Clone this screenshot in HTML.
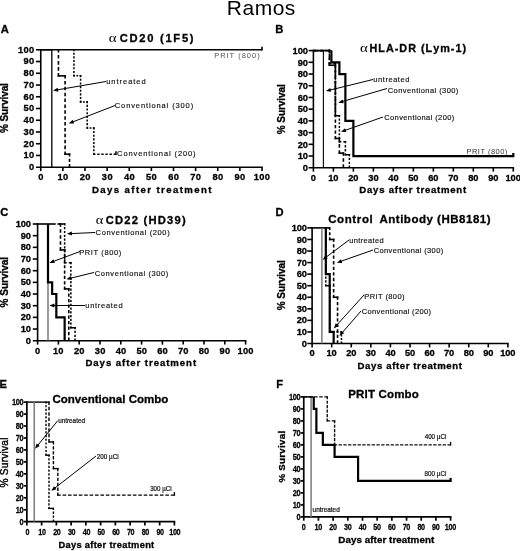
<!DOCTYPE html>
<html><head><meta charset="utf-8"><title>Ramos</title>
<style>html,body{margin:0;padding:0;background:#fff;width:520px;height:551px;overflow:hidden}svg{display:block;will-change:transform}.b{stroke:#000;stroke-width:0.3px}.a{stroke:#111;stroke-width:0.15px}.c{stroke:#000;stroke-width:0.25px}.e{stroke:#000;stroke-width:0.2px}.r{stroke:#000;stroke-width:0.4px}</style>
</head><body>
<svg width="520" height="551" viewBox="0 0 520 551">
<rect width="520" height="551" fill="#fff"/>
<text x="226.78 242.46 254.65 272.66 284.86" y="15.4" font-size="21" font-weight="normal" fill="#000" font-family='"Liberation Sans", sans-serif'>Ramos</text>
<text x="0.72" y="32.8" font-size="11.2" font-weight="bold" fill="#000" font-family='"Liberation Sans", sans-serif' class="b">A</text>
<line x1="35.95" y1="167.2" x2="262.8" y2="167.2" stroke="#000" stroke-width="1.6"/>
<line x1="40.75" y1="171.1" x2="40.75" y2="49" stroke="#000" stroke-width="1.6"/>
<line x1="35.95" y1="155.46" x2="40.75" y2="155.46" stroke="#000" stroke-width="1.6"/>
<line x1="62.88" y1="167.2" x2="62.88" y2="171.1" stroke="#000" stroke-width="1.6"/>
<line x1="35.95" y1="143.72" x2="40.75" y2="143.72" stroke="#000" stroke-width="1.6"/>
<line x1="85" y1="167.2" x2="85" y2="171.1" stroke="#000" stroke-width="1.6"/>
<line x1="35.95" y1="131.98" x2="40.75" y2="131.98" stroke="#000" stroke-width="1.6"/>
<line x1="107.12" y1="167.2" x2="107.12" y2="171.1" stroke="#000" stroke-width="1.6"/>
<line x1="35.95" y1="120.24" x2="40.75" y2="120.24" stroke="#000" stroke-width="1.6"/>
<line x1="129.25" y1="167.2" x2="129.25" y2="171.1" stroke="#000" stroke-width="1.6"/>
<line x1="35.95" y1="108.5" x2="40.75" y2="108.5" stroke="#000" stroke-width="1.6"/>
<line x1="151.38" y1="167.2" x2="151.38" y2="171.1" stroke="#000" stroke-width="1.6"/>
<line x1="35.95" y1="96.76" x2="40.75" y2="96.76" stroke="#000" stroke-width="1.6"/>
<line x1="173.5" y1="167.2" x2="173.5" y2="171.1" stroke="#000" stroke-width="1.6"/>
<line x1="35.95" y1="85.02" x2="40.75" y2="85.02" stroke="#000" stroke-width="1.6"/>
<line x1="195.62" y1="167.2" x2="195.62" y2="171.1" stroke="#000" stroke-width="1.6"/>
<line x1="35.95" y1="73.28" x2="40.75" y2="73.28" stroke="#000" stroke-width="1.6"/>
<line x1="217.75" y1="167.2" x2="217.75" y2="171.1" stroke="#000" stroke-width="1.6"/>
<line x1="35.95" y1="61.54" x2="40.75" y2="61.54" stroke="#000" stroke-width="1.6"/>
<line x1="239.88" y1="167.2" x2="239.88" y2="171.1" stroke="#000" stroke-width="1.6"/>
<line x1="35.95" y1="49.8" x2="40.75" y2="49.8" stroke="#000" stroke-width="1.6"/>
<line x1="262" y1="167.2" x2="262" y2="171.1" stroke="#000" stroke-width="1.6"/>
<text x="29.01" y="170" font-size="9.3" font-weight="bold" fill="#000" font-family='"Liberation Sans", sans-serif' class="b">0</text>
<text x="23.46 29.01" y="158.26" font-size="9.3" font-weight="bold" fill="#000" font-family='"Liberation Sans", sans-serif' class="b">10</text>
<text x="23.46 29.01" y="146.52" font-size="9.3" font-weight="bold" fill="#000" font-family='"Liberation Sans", sans-serif' class="b">20</text>
<text x="23.46 29.01" y="134.78" font-size="9.3" font-weight="bold" fill="#000" font-family='"Liberation Sans", sans-serif' class="b">30</text>
<text x="23.46 29.01" y="123.04" font-size="9.3" font-weight="bold" fill="#000" font-family='"Liberation Sans", sans-serif' class="b">40</text>
<text x="23.46 29.01" y="111.3" font-size="9.3" font-weight="bold" fill="#000" font-family='"Liberation Sans", sans-serif' class="b">50</text>
<text x="23.46 29.01" y="99.56" font-size="9.3" font-weight="bold" fill="#000" font-family='"Liberation Sans", sans-serif' class="b">60</text>
<text x="23.46 29.01" y="87.82" font-size="9.3" font-weight="bold" fill="#000" font-family='"Liberation Sans", sans-serif' class="b">70</text>
<text x="23.46 29.01" y="76.08" font-size="9.3" font-weight="bold" fill="#000" font-family='"Liberation Sans", sans-serif' class="b">80</text>
<text x="23.46 29.01" y="64.34" font-size="9.3" font-weight="bold" fill="#000" font-family='"Liberation Sans", sans-serif' class="b">90</text>
<text x="17.91 23.46 29.01" y="52.6" font-size="9.3" font-weight="bold" fill="#000" font-family='"Liberation Sans", sans-serif' class="b">100</text>
<text x="38.17" y="180.2" font-size="9.3" font-weight="bold" fill="#000" font-family='"Liberation Sans", sans-serif' class="b">0</text>
<text x="57.41 62.96" y="180.2" font-size="9.3" font-weight="bold" fill="#000" font-family='"Liberation Sans", sans-serif' class="b">10</text>
<text x="79.67 85.22" y="180.2" font-size="9.3" font-weight="bold" fill="#000" font-family='"Liberation Sans", sans-serif' class="b">20</text>
<text x="101.85 107.4" y="180.2" font-size="9.3" font-weight="bold" fill="#000" font-family='"Liberation Sans", sans-serif' class="b">30</text>
<text x="124.01 129.56" y="180.2" font-size="9.3" font-weight="bold" fill="#000" font-family='"Liberation Sans", sans-serif' class="b">40</text>
<text x="146.06 151.61" y="180.2" font-size="9.3" font-weight="bold" fill="#000" font-family='"Liberation Sans", sans-serif' class="b">50</text>
<text x="168.16 173.71" y="180.2" font-size="9.3" font-weight="bold" fill="#000" font-family='"Liberation Sans", sans-serif' class="b">60</text>
<text x="190.25 195.8" y="180.2" font-size="9.3" font-weight="bold" fill="#000" font-family='"Liberation Sans", sans-serif' class="b">70</text>
<text x="212.43 217.98" y="180.2" font-size="9.3" font-weight="bold" fill="#000" font-family='"Liberation Sans", sans-serif' class="b">80</text>
<text x="234.54 240.09" y="180.2" font-size="9.3" font-weight="bold" fill="#000" font-family='"Liberation Sans", sans-serif' class="b">90</text>
<text x="253.76 259.31 264.86" y="180.2" font-size="9.3" font-weight="bold" fill="#000" font-family='"Liberation Sans", sans-serif' class="b">100</text>
<text class="b" transform="translate(8.3,132.8) rotate(-90)" x="-0.25 8.57 11.28 17.88 23.92 27.74 33.24 35.95 41.44 46.93" y="0" font-size="10" font-weight="bold" font-family='"Liberation Sans", sans-serif'>% Survival</text>
<text x="91.96 100.29 107.03 113.76 120.5 124.57 131.31 135.9 140.5 147.23 152.37 156.43 161.03 166.16 172.9 179.64 184.24 194.17 200.91 208.17" y="192.9" font-size="9.6" font-weight="bold" fill="#000" font-family='"Liberation Sans", sans-serif' class="b">Days after treatment</text>
<text transform="translate(108.73,42) scale(1.1363,1)" x="0" y="0" font-size="13.2" font-weight="normal" fill="#000" font-family='"Liberation Serif", serif'>α</text>
<text x="119.64 129.44 139.24 147.18 155.12 159.95 165.39 173.33 181.89 189.83" y="42" font-size="11.2" font-weight="bold" fill="#000" font-family='"Liberation Sans", sans-serif' class="b">CD20 (1F5)</text>
<polyline points="40.75,49.8 51.81,49.8 51.81,167.2" fill="none" stroke="#000" stroke-width="1.3" stroke-linejoin="miter" stroke-linecap="butt"/>
<path d="M58.45 49L58.45 76.66" fill="none" stroke="#000" stroke-width="1.6" stroke-dasharray="3.59 2.43" stroke-linecap="butt"/>
<path d="M57.65 75.86L65.89 75.86" fill="none" stroke="#000" stroke-width="1.6" stroke-dasharray="8.24 5.57" stroke-linecap="butt"/>
<path d="M65.09 75.06L65.09 154.97" fill="none" stroke="#000" stroke-width="1.6" stroke-dasharray="3.51 2.37" stroke-linecap="butt"/>
<path d="M64.29 154.17L70.31 154.17" fill="none" stroke="#000" stroke-width="1.6" stroke-dasharray="6.02 4.08" stroke-linecap="butt"/>
<path d="M69.51 153.37L69.51 167.2" fill="none" stroke="#000" stroke-width="1.6" stroke-dasharray="3.18 2.15" stroke-linecap="butt"/>
<path d="M73.94 49.05L73.94 76.61" fill="none" stroke="#000" stroke-width="1.5" stroke-dasharray="2.11 1.53" stroke-linecap="butt"/>
<path d="M73.19 75.86L81.33 75.86" fill="none" stroke="#000" stroke-width="1.5" stroke-dasharray="1.83 1.33" stroke-linecap="butt"/>
<path d="M80.58 75.11L80.58 102.68" fill="none" stroke="#000" stroke-width="1.5" stroke-dasharray="2.11 1.53" stroke-linecap="butt"/>
<path d="M79.83 101.93L87.96 101.93" fill="none" stroke="#000" stroke-width="1.5" stroke-dasharray="1.83 1.33" stroke-linecap="butt"/>
<path d="M87.21 101.18L87.21 128.86" fill="none" stroke="#000" stroke-width="1.5" stroke-dasharray="2.11 1.54" stroke-linecap="butt"/>
<path d="M86.46 128.11L94.6 128.11" fill="none" stroke="#000" stroke-width="1.5" stroke-dasharray="1.83 1.33" stroke-linecap="butt"/>
<path d="M93.85 127.36L93.85 154.92" fill="none" stroke="#000" stroke-width="1.5" stroke-dasharray="2.11 1.53" stroke-linecap="butt"/>
<path d="M93.1 154.17L115.97 154.17" fill="none" stroke="#000" stroke-width="1.5" stroke-dasharray="2.37 1.73" stroke-linecap="butt"/>
<line x1="115.97" y1="154.92" x2="115.97" y2="151.17" stroke="#000" stroke-width="1.5"/>
<polyline points="40.75,49.8 262,49.8" fill="none" stroke="#000" stroke-width="1.6" stroke-linejoin="miter" stroke-linecap="butt"/>
<line x1="262" y1="50.6" x2="262" y2="46.8" stroke="#000" stroke-width="1.6"/>
<text x="214.18 220.17 226.56 229.62 235.18 238.24 241.72 246.87 252.02 257.17" y="58.1" font-size="7.5" font-weight="normal" fill="#555" font-family='"Liberation Sans", sans-serif'>PRIT (800)</text>
<text x="106.21 111.36 116.5 119.56 123.03 128.17 133.31 136.37 141.51" y="84" font-size="7.5" font-weight="normal" fill="#111" font-family='"Liberation Sans", sans-serif' class="a">untreated</text>
<line x1="106" y1="81.5" x2="57.04" y2="89.92" stroke="#000" stroke-width="1"/>
<polygon points="53.1,90.6 57.69,87.78 58.37,91.72" fill="#000"/>
<text x="114.82 121.12 126.17 131.22 135.85 140.9 145.95 148.92 151.47 156.52 161.57 166.62 169.17 172.13 175.51 180.56 185.62 190.67" y="107.9" font-size="7.5" font-weight="normal" fill="#111" font-family='"Liberation Sans", sans-serif' class="a">Conventional (300)</text>
<line x1="115" y1="105.5" x2="72.48" y2="122.05" stroke="#000" stroke-width="1"/>
<polygon points="68.75,123.5 72.68,119.82 74.13,123.55" fill="#000"/>
<text x="117.12 123.42 128.48 133.54 138.17 143.23 148.29 151.26 153.81 158.87 163.93 168.99 171.54 174.51 177.89 182.95 188.01 193.07" y="155.9" font-size="7.5" font-weight="normal" fill="#111" font-family='"Liberation Sans", sans-serif' class="a">Conventional (200)</text>
<text x="275.25" y="32.9" font-size="11.2" font-weight="bold" fill="#000" font-family='"Liberation Sans", sans-serif' class="b">B</text>
<line x1="308.6" y1="167.75" x2="514.1" y2="167.75" stroke="#000" stroke-width="1.6"/>
<line x1="313.4" y1="171.65" x2="313.4" y2="49.8" stroke="#000" stroke-width="1.6"/>
<line x1="308.6" y1="156.03" x2="313.4" y2="156.03" stroke="#000" stroke-width="1.6"/>
<line x1="333.39" y1="167.75" x2="333.39" y2="171.65" stroke="#000" stroke-width="1.6"/>
<line x1="308.6" y1="144.32" x2="313.4" y2="144.32" stroke="#000" stroke-width="1.6"/>
<line x1="353.38" y1="167.75" x2="353.38" y2="171.65" stroke="#000" stroke-width="1.6"/>
<line x1="308.6" y1="132.6" x2="313.4" y2="132.6" stroke="#000" stroke-width="1.6"/>
<line x1="373.37" y1="167.75" x2="373.37" y2="171.65" stroke="#000" stroke-width="1.6"/>
<line x1="308.6" y1="120.89" x2="313.4" y2="120.89" stroke="#000" stroke-width="1.6"/>
<line x1="393.36" y1="167.75" x2="393.36" y2="171.65" stroke="#000" stroke-width="1.6"/>
<line x1="308.6" y1="109.17" x2="313.4" y2="109.17" stroke="#000" stroke-width="1.6"/>
<line x1="413.35" y1="167.75" x2="413.35" y2="171.65" stroke="#000" stroke-width="1.6"/>
<line x1="308.6" y1="97.46" x2="313.4" y2="97.46" stroke="#000" stroke-width="1.6"/>
<line x1="433.34" y1="167.75" x2="433.34" y2="171.65" stroke="#000" stroke-width="1.6"/>
<line x1="308.6" y1="85.75" x2="313.4" y2="85.75" stroke="#000" stroke-width="1.6"/>
<line x1="453.33" y1="167.75" x2="453.33" y2="171.65" stroke="#000" stroke-width="1.6"/>
<line x1="308.6" y1="74.03" x2="313.4" y2="74.03" stroke="#000" stroke-width="1.6"/>
<line x1="473.32" y1="167.75" x2="473.32" y2="171.65" stroke="#000" stroke-width="1.6"/>
<line x1="308.6" y1="62.31" x2="313.4" y2="62.31" stroke="#000" stroke-width="1.6"/>
<line x1="493.31" y1="167.75" x2="493.31" y2="171.65" stroke="#000" stroke-width="1.6"/>
<line x1="308.6" y1="50.6" x2="313.4" y2="50.6" stroke="#000" stroke-width="1.6"/>
<line x1="513.3" y1="167.75" x2="513.3" y2="171.65" stroke="#000" stroke-width="1.6"/>
<text x="302.81" y="170.95" font-size="9.3" font-weight="bold" fill="#000" font-family='"Liberation Sans", sans-serif' class="b">0</text>
<text x="297.71 302.81" y="159.23" font-size="9.3" font-weight="bold" fill="#000" font-family='"Liberation Sans", sans-serif' class="b">10</text>
<text x="297.71 302.81" y="147.52" font-size="9.3" font-weight="bold" fill="#000" font-family='"Liberation Sans", sans-serif' class="b">20</text>
<text x="297.71 302.81" y="135.8" font-size="9.3" font-weight="bold" fill="#000" font-family='"Liberation Sans", sans-serif' class="b">30</text>
<text x="297.71 302.81" y="124.09" font-size="9.3" font-weight="bold" fill="#000" font-family='"Liberation Sans", sans-serif' class="b">40</text>
<text x="297.71 302.81" y="112.37" font-size="9.3" font-weight="bold" fill="#000" font-family='"Liberation Sans", sans-serif' class="b">50</text>
<text x="297.71 302.81" y="100.66" font-size="9.3" font-weight="bold" fill="#000" font-family='"Liberation Sans", sans-serif' class="b">60</text>
<text x="297.71 302.81" y="88.94" font-size="9.3" font-weight="bold" fill="#000" font-family='"Liberation Sans", sans-serif' class="b">70</text>
<text x="297.71 302.81" y="77.23" font-size="9.3" font-weight="bold" fill="#000" font-family='"Liberation Sans", sans-serif' class="b">80</text>
<text x="297.71 302.81" y="65.51" font-size="9.3" font-weight="bold" fill="#000" font-family='"Liberation Sans", sans-serif' class="b">90</text>
<text x="292.61 297.71 302.81" y="53.8" font-size="9.3" font-weight="bold" fill="#000" font-family='"Liberation Sans", sans-serif' class="b">100</text>
<text x="310.82" y="180.7" font-size="9.3" font-weight="bold" fill="#000" font-family='"Liberation Sans", sans-serif' class="b">0</text>
<text x="328.15 333.25" y="180.7" font-size="9.3" font-weight="bold" fill="#000" font-family='"Liberation Sans", sans-serif' class="b">10</text>
<text x="348.27 353.37" y="180.7" font-size="9.3" font-weight="bold" fill="#000" font-family='"Liberation Sans", sans-serif' class="b">20</text>
<text x="368.32 373.42" y="180.7" font-size="9.3" font-weight="bold" fill="#000" font-family='"Liberation Sans", sans-serif' class="b">30</text>
<text x="388.34 393.44" y="180.7" font-size="9.3" font-weight="bold" fill="#000" font-family='"Liberation Sans", sans-serif' class="b">40</text>
<text x="408.26 413.36" y="180.7" font-size="9.3" font-weight="bold" fill="#000" font-family='"Liberation Sans", sans-serif' class="b">50</text>
<text x="428.22 433.32" y="180.7" font-size="9.3" font-weight="bold" fill="#000" font-family='"Liberation Sans", sans-serif' class="b">60</text>
<text x="448.18 453.28" y="180.7" font-size="9.3" font-weight="bold" fill="#000" font-family='"Liberation Sans", sans-serif' class="b">70</text>
<text x="468.23 473.33" y="180.7" font-size="9.3" font-weight="bold" fill="#000" font-family='"Liberation Sans", sans-serif' class="b">80</text>
<text x="488.2 493.3" y="180.7" font-size="9.3" font-weight="bold" fill="#000" font-family='"Liberation Sans", sans-serif' class="b">90</text>
<text x="505.51 510.61 515.71" y="180.7" font-size="9.3" font-weight="bold" fill="#000" font-family='"Liberation Sans", sans-serif' class="b">100</text>
<text class="b" transform="translate(285.3,133.9) rotate(-90)" x="-0.25 8.57 11.28 17.88 23.92 27.74 33.24 35.95 41.44 46.93" y="0" font-size="10" font-weight="bold" font-family='"Liberation Sans", sans-serif'>% Survival</text>
<text x="359.36 367.02 373.1 379.17 385.24 388.64 394.71 398.64 402.57 408.64 413.11 416.51 420.44 424.91 430.98 437.05 440.98 450.25 456.32 462.92" y="193.1" font-size="9.6" font-weight="bold" fill="#000" font-family='"Liberation Sans", sans-serif' class="b">Days after treatment</text>
<text transform="translate(360.03,51.7) scale(1.1281,1)" x="0" y="0" font-size="13.2" font-weight="normal" fill="#000" font-family='"Liberation Serif", serif'>α</text>
<text x="369.48 378.29 385.9 394.71 399.32 408.13 416.95 420.96 425.57 433.18 440.2 450.81 455.42 462.44" y="51.7" font-size="10.8" font-weight="bold" fill="#000" font-family='"Liberation Sans", sans-serif' class="b">HLA-DR (Lym-1)</text>
<polyline points="313.4,50.6 323.39,50.6 323.39,167.75" fill="none" stroke="#000" stroke-width="1.1" stroke-linejoin="miter" stroke-linecap="butt"/>
<path d="M313.4 50.6L330.19 50.6" fill="none" stroke="#000" stroke-width="1.6" stroke-dasharray="3.86 2.61" stroke-linecap="butt"/>
<path d="M329.39 49.8L329.39 66.04" fill="none" stroke="#000" stroke-width="1.6" stroke-dasharray="3.73 2.52" stroke-linecap="butt"/>
<path d="M328.59 65.24L336.19 65.24" fill="none" stroke="#000" stroke-width="1.6" stroke-dasharray="7.6 5.14" stroke-linecap="butt"/>
<path d="M335.39 64.44L335.39 139.26" fill="none" stroke="#000" stroke-width="1.6" stroke-dasharray="3.28 2.22" stroke-linecap="butt"/>
<path d="M334.59 138.46L340.19 138.46" fill="none" stroke="#000" stroke-width="1.6" stroke-dasharray="5.6 3.79" stroke-linecap="butt"/>
<path d="M339.39 137.66L339.39 153.91" fill="none" stroke="#000" stroke-width="1.6" stroke-dasharray="3.73 2.52" stroke-linecap="butt"/>
<path d="M338.59 153.11L344.19 153.11" fill="none" stroke="#000" stroke-width="1.6" stroke-dasharray="5.6 3.79" stroke-linecap="butt"/>
<path d="M343.38 152.31L343.38 167.75" fill="none" stroke="#000" stroke-width="1.6" stroke-dasharray="3.55 2.4" stroke-linecap="butt"/>
<path d="M313.4 50.6L330.14 50.6" fill="none" stroke="#000" stroke-width="1.5" stroke-dasharray="2.12 1.54" stroke-linecap="butt"/>
<path d="M329.39 49.85L329.39 64.35" fill="none" stroke="#000" stroke-width="1.5" stroke-dasharray="2.35 1.71" stroke-linecap="butt"/>
<path d="M328.64 63.6L336.14 63.6" fill="none" stroke="#000" stroke-width="1.5" stroke-dasharray="2.75 2" stroke-linecap="butt"/>
<path d="M335.39 62.85L335.39 116.49" fill="none" stroke="#000" stroke-width="1.5" stroke-dasharray="2.13 1.55" stroke-linecap="butt"/>
<path d="M334.64 115.74L340.14 115.74" fill="none" stroke="#000" stroke-width="1.5" stroke-dasharray="5.5 4" stroke-linecap="butt"/>
<path d="M339.39 114.99L339.39 142.49" fill="none" stroke="#000" stroke-width="1.5" stroke-dasharray="2.1 1.53" stroke-linecap="butt"/>
<path d="M338.64 141.74L346.13 141.74" fill="none" stroke="#000" stroke-width="1.5" stroke-dasharray="2.75 2" stroke-linecap="butt"/>
<path d="M345.38 140.99L345.38 155.5" fill="none" stroke="#000" stroke-width="1.5" stroke-dasharray="2.35 1.71" stroke-linecap="butt"/>
<path d="M344.63 154.75L350.13 154.75" fill="none" stroke="#000" stroke-width="1.5" stroke-dasharray="5.5 4" stroke-linecap="butt"/>
<path d="M349.38 154L349.38 167.75" fill="none" stroke="#000" stroke-width="1.5" stroke-dasharray="2.22 1.62" stroke-linecap="butt"/>
<line x1="313.4" y1="50.6" x2="331.39" y2="50.6" stroke="#000" stroke-width="1.6"/>
<line x1="335.39" y1="65.24" x2="335.39" y2="115.74" stroke="#000" stroke-width="1.5" stroke-dasharray="14 1.2"/>
<polyline points="331.39,50.6 331.39,50.6 331.39,62.31 339.39,62.31 339.39,74.03 345.38,74.03 345.38,120.89 353.38,120.89 353.38,156.03 513.3,156.03" fill="none" stroke="#000" stroke-width="2.2" stroke-linejoin="miter" stroke-linecap="butt"/>
<line x1="513.3" y1="157.13" x2="513.3" y2="153.03" stroke="#000" stroke-width="2.2"/>
<text x="466.48 471.95 477.84 480.39 485.44 487.99 490.95 495.59 500.23 504.87" y="154.2" font-size="7.5" font-weight="normal" fill="#333" font-family='"Liberation Sans", sans-serif'>PRIT (800)</text>
<text x="373.31 378.03 382.75 385.38 388.43 393.14 397.86 400.49 405.21" y="81.7" font-size="7.5" font-weight="normal" fill="#111" font-family='"Liberation Sans", sans-serif' class="a">untreated</text>
<line x1="373" y1="79.5" x2="329.78" y2="90.14" stroke="#000" stroke-width="1"/>
<polygon points="325.9,91.1 330.28,87.96 331.23,91.85" fill="#000"/>
<text x="387.72 393.56 398.16 402.76 406.94 411.54 416.14 418.65 420.74 425.34 429.94 434.54 436.63 439.15 442.07 446.67 451.27 455.87" y="92.7" font-size="7.5" font-weight="normal" fill="#111" font-family='"Liberation Sans", sans-serif' class="a">Conventional (300)</text>
<line x1="387" y1="88.5" x2="342.14" y2="101.58" stroke="#000" stroke-width="1"/>
<polygon points="338.3,102.7 342.54,99.38 343.66,103.22" fill="#000"/>
<text x="384.22 390.03 394.59 399.16 403.3 407.86 412.43 414.9 416.96 421.52 426.09 430.65 432.71 435.19 438.08 442.64 447.2 451.77" y="120.2" font-size="7.5" font-weight="normal" fill="#111" font-family='"Liberation Sans", sans-serif' class="a">Conventional (200)</text>
<line x1="383" y1="117" x2="344.77" y2="130.47" stroke="#000" stroke-width="1"/>
<polygon points="341,131.8 345.05,128.25 346.38,132.02" fill="#000"/>
<text x="0.14" y="215.6" font-size="11.2" font-weight="bold" fill="#000" font-family='"Liberation Sans", sans-serif' class="b">C</text>
<line x1="32.8" y1="340.7" x2="246.4" y2="340.7" stroke="#000" stroke-width="1.6"/>
<line x1="37.6" y1="344.6" x2="37.6" y2="223.2" stroke="#000" stroke-width="1.6"/>
<line x1="32.8" y1="329.03" x2="37.6" y2="329.03" stroke="#000" stroke-width="1.6"/>
<line x1="58.4" y1="340.7" x2="58.4" y2="344.6" stroke="#000" stroke-width="1.6"/>
<line x1="32.8" y1="317.36" x2="37.6" y2="317.36" stroke="#000" stroke-width="1.6"/>
<line x1="79.2" y1="340.7" x2="79.2" y2="344.6" stroke="#000" stroke-width="1.6"/>
<line x1="32.8" y1="305.69" x2="37.6" y2="305.69" stroke="#000" stroke-width="1.6"/>
<line x1="100" y1="340.7" x2="100" y2="344.6" stroke="#000" stroke-width="1.6"/>
<line x1="32.8" y1="294.02" x2="37.6" y2="294.02" stroke="#000" stroke-width="1.6"/>
<line x1="120.8" y1="340.7" x2="120.8" y2="344.6" stroke="#000" stroke-width="1.6"/>
<line x1="32.8" y1="282.35" x2="37.6" y2="282.35" stroke="#000" stroke-width="1.6"/>
<line x1="141.6" y1="340.7" x2="141.6" y2="344.6" stroke="#000" stroke-width="1.6"/>
<line x1="32.8" y1="270.68" x2="37.6" y2="270.68" stroke="#000" stroke-width="1.6"/>
<line x1="162.4" y1="340.7" x2="162.4" y2="344.6" stroke="#000" stroke-width="1.6"/>
<line x1="32.8" y1="259.01" x2="37.6" y2="259.01" stroke="#000" stroke-width="1.6"/>
<line x1="183.2" y1="340.7" x2="183.2" y2="344.6" stroke="#000" stroke-width="1.6"/>
<line x1="32.8" y1="247.34" x2="37.6" y2="247.34" stroke="#000" stroke-width="1.6"/>
<line x1="204" y1="340.7" x2="204" y2="344.6" stroke="#000" stroke-width="1.6"/>
<line x1="32.8" y1="235.67" x2="37.6" y2="235.67" stroke="#000" stroke-width="1.6"/>
<line x1="224.8" y1="340.7" x2="224.8" y2="344.6" stroke="#000" stroke-width="1.6"/>
<line x1="32.8" y1="224" x2="37.6" y2="224" stroke="#000" stroke-width="1.6"/>
<line x1="245.6" y1="340.7" x2="245.6" y2="344.6" stroke="#000" stroke-width="1.6"/>
<text x="25.81" y="343.8" font-size="9.3" font-weight="bold" fill="#000" font-family='"Liberation Sans", sans-serif' class="b">0</text>
<text x="20.81 25.81" y="332.13" font-size="9.3" font-weight="bold" fill="#000" font-family='"Liberation Sans", sans-serif' class="b">10</text>
<text x="20.81 25.81" y="320.46" font-size="9.3" font-weight="bold" fill="#000" font-family='"Liberation Sans", sans-serif' class="b">20</text>
<text x="20.81 25.81" y="308.79" font-size="9.3" font-weight="bold" fill="#000" font-family='"Liberation Sans", sans-serif' class="b">30</text>
<text x="20.81 25.81" y="297.12" font-size="9.3" font-weight="bold" fill="#000" font-family='"Liberation Sans", sans-serif' class="b">40</text>
<text x="20.81 25.81" y="285.45" font-size="9.3" font-weight="bold" fill="#000" font-family='"Liberation Sans", sans-serif' class="b">50</text>
<text x="20.81 25.81" y="273.78" font-size="9.3" font-weight="bold" fill="#000" font-family='"Liberation Sans", sans-serif' class="b">60</text>
<text x="20.81 25.81" y="262.11" font-size="9.3" font-weight="bold" fill="#000" font-family='"Liberation Sans", sans-serif' class="b">70</text>
<text x="20.81 25.81" y="250.44" font-size="9.3" font-weight="bold" fill="#000" font-family='"Liberation Sans", sans-serif' class="b">80</text>
<text x="20.81 25.81" y="238.77" font-size="9.3" font-weight="bold" fill="#000" font-family='"Liberation Sans", sans-serif' class="b">90</text>
<text x="15.81 20.81 25.81" y="227.1" font-size="9.3" font-weight="bold" fill="#000" font-family='"Liberation Sans", sans-serif' class="b">100</text>
<text x="35.02" y="353.8" font-size="9.3" font-weight="bold" fill="#000" font-family='"Liberation Sans", sans-serif' class="b">0</text>
<text x="53.06 58.36" y="353.8" font-size="9.3" font-weight="bold" fill="#000" font-family='"Liberation Sans", sans-serif' class="b">10</text>
<text x="73.99 79.29" y="353.8" font-size="9.3" font-weight="bold" fill="#000" font-family='"Liberation Sans", sans-serif' class="b">20</text>
<text x="94.85 100.15" y="353.8" font-size="9.3" font-weight="bold" fill="#000" font-family='"Liberation Sans", sans-serif' class="b">30</text>
<text x="115.68 120.98" y="353.8" font-size="9.3" font-weight="bold" fill="#000" font-family='"Liberation Sans", sans-serif' class="b">40</text>
<text x="136.41 141.71" y="353.8" font-size="9.3" font-weight="bold" fill="#000" font-family='"Liberation Sans", sans-serif' class="b">50</text>
<text x="157.18 162.48" y="353.8" font-size="9.3" font-weight="bold" fill="#000" font-family='"Liberation Sans", sans-serif' class="b">60</text>
<text x="177.95 183.25" y="353.8" font-size="9.3" font-weight="bold" fill="#000" font-family='"Liberation Sans", sans-serif' class="b">70</text>
<text x="198.81 204.11" y="353.8" font-size="9.3" font-weight="bold" fill="#000" font-family='"Liberation Sans", sans-serif' class="b">80</text>
<text x="219.59 224.89" y="353.8" font-size="9.3" font-weight="bold" fill="#000" font-family='"Liberation Sans", sans-serif' class="b">90</text>
<text x="237.61 242.91 248.21" y="353.8" font-size="9.3" font-weight="bold" fill="#000" font-family='"Liberation Sans", sans-serif' class="b">100</text>
<text class="b" transform="translate(8.3,307.2) rotate(-90)" x="-0.25 8.64 11.42 18.08 24.19 28.08 33.64 36.41 41.97 47.53" y="0" font-size="10" font-weight="bold" font-family='"Liberation Sans", sans-serif'>% Survival</text>
<text x="85.46 93.33 99.61 105.88 112.16 115.77 122.04 126.18 130.31 136.59 141.26 144.87 149 153.68 159.95 166.23 170.37 179.84 186.12 192.92" y="365.8" font-size="9.6" font-weight="bold" fill="#000" font-family='"Liberation Sans", sans-serif' class="b">Days after treatment</text>
<text transform="translate(95.75,224.2) scale(1.0954,1)" x="0" y="0" font-size="13.2" font-weight="normal" fill="#000" font-family='"Liberation Serif", serif'>α</text>
<text x="105.64 114.96 124.27 131.73 139.19 143.53 148.48 157.8 167.11 174.57 182.03" y="224.2" font-size="11.2" font-weight="bold" fill="#000" font-family='"Liberation Sans", sans-serif' class="b">CD22 (HD39)</text>
<line x1="36.8" y1="224" x2="55.7" y2="224" stroke="#000" stroke-width="1.6"/>
<polyline points="48,224 48,224 48,340.7" fill="none" stroke="#7a7a7a" stroke-width="1.5" stroke-linejoin="miter" stroke-linecap="butt"/>
<path d="M57.36 224L61.28 224" fill="none" stroke="#000" stroke-width="1.6" stroke-dasharray="3.92 2.65" stroke-linecap="butt"/>
<path d="M60.48 223.2L60.48 250.71" fill="none" stroke="#000" stroke-width="1.6" stroke-dasharray="3.57 2.41" stroke-linecap="butt"/>
<path d="M59.68 249.91L65.44 249.91" fill="none" stroke="#000" stroke-width="1.6" stroke-dasharray="5.76 3.9" stroke-linecap="butt"/>
<path d="M64.64 249.11L64.64 289.69" fill="none" stroke="#000" stroke-width="1.6" stroke-dasharray="3.19 2.16" stroke-linecap="butt"/>
<path d="M63.84 288.89L69.6 288.89" fill="none" stroke="#000" stroke-width="1.6" stroke-dasharray="5.76 3.9" stroke-linecap="butt"/>
<path d="M68.8 288.09L68.8 340.7" fill="none" stroke="#000" stroke-width="1.6" stroke-dasharray="3.27 2.21" stroke-linecap="butt"/>
<path d="M59.44 224L65.39 224" fill="none" stroke="#000" stroke-width="1.5" stroke-dasharray="5.95 4.33" stroke-linecap="butt"/>
<path d="M64.64 223.25L64.64 263.61" fill="none" stroke="#000" stroke-width="1.5" stroke-dasharray="2.21 1.61" stroke-linecap="butt"/>
<path d="M63.89 262.86L71.63 262.86" fill="none" stroke="#000" stroke-width="1.5" stroke-dasharray="2.84 2.06" stroke-linecap="butt"/>
<path d="M70.88 262.11L70.88 328.5" fill="none" stroke="#000" stroke-width="1.5" stroke-dasharray="2.19 1.59" stroke-linecap="butt"/>
<path d="M70.13 327.75L75.79 327.75" fill="none" stroke="#000" stroke-width="1.5" stroke-dasharray="5.66 4.12" stroke-linecap="butt"/>
<path d="M75.04 327L75.04 340.7" fill="none" stroke="#000" stroke-width="1.5" stroke-dasharray="2.22 1.61" stroke-linecap="butt"/>
<polyline points="48,224 48,224 48,282.35 52.16,282.35 52.16,294.02 56.32,294.02 56.32,317.36 64.64,317.36 64.64,340.7" fill="none" stroke="#000" stroke-width="2.2" stroke-linejoin="miter" stroke-linecap="butt"/>
<text x="95.62 101.66 106.46 111.26 115.64 120.44 125.24 127.95 130.24 135.04 139.84 144.64 146.93 149.65 152.77 157.57 162.37 167.17" y="235.4" font-size="7.5" font-weight="normal" fill="#111" font-family='"Liberation Sans", sans-serif' class="a">Conventional (200)</text>
<line x1="95" y1="232.5" x2="70.9" y2="233.62" stroke="#000" stroke-width="1"/>
<polygon points="66.9,233.8 71.8,231.57 71.99,235.57" fill="#000"/>
<text x="79.18 84.79 90.8 93.49 98.67 101.35 104.45 109.22 114 118.77" y="254.8" font-size="7.5" font-weight="normal" fill="#111" font-family='"Liberation Sans", sans-serif' class="a">PRIT (800)</text>
<line x1="80" y1="251.5" x2="53.15" y2="261.5" stroke="#000" stroke-width="1"/>
<polygon points="49.4,262.9 53.39,259.28 54.78,263.03" fill="#000"/>
<text x="94.82 100.83 105.6 110.37 114.72 119.49 124.26 126.94 129.21 133.98 138.75 143.52 145.78 148.46 151.56 156.33 161.1 165.87" y="276" font-size="7.5" font-weight="normal" fill="#111" font-family='"Liberation Sans", sans-serif' class="a">Conventional (300)</text>
<line x1="94" y1="272.5" x2="70.29" y2="278.26" stroke="#000" stroke-width="1"/>
<polygon points="66.4,279.2 70.79,276.08 71.73,279.96" fill="#000"/>
<text x="85.31 90.18 95.05 97.83 101.03 105.89 110.76 113.54 118.41" y="308" font-size="7.5" font-weight="normal" fill="#111" font-family='"Liberation Sans", sans-serif' class="a">untreated</text>
<line x1="85" y1="305.5" x2="53.4" y2="305.5" stroke="#000" stroke-width="1"/>
<polygon points="49.4,305.5 54.4,303.5 54.4,307.5" fill="#000"/>
<text x="275.5" y="215.6" font-size="11.2" font-weight="bold" fill="#000" font-family='"Liberation Sans", sans-serif' class="b">D</text>
<line x1="307.3" y1="343.5" x2="508.7" y2="343.5" stroke="#000" stroke-width="1.6"/>
<line x1="312.1" y1="347.4" x2="312.1" y2="227.1" stroke="#000" stroke-width="1.6"/>
<line x1="307.3" y1="331.94" x2="312.1" y2="331.94" stroke="#000" stroke-width="1.6"/>
<line x1="331.68" y1="343.5" x2="331.68" y2="347.4" stroke="#000" stroke-width="1.6"/>
<line x1="307.3" y1="320.38" x2="312.1" y2="320.38" stroke="#000" stroke-width="1.6"/>
<line x1="351.26" y1="343.5" x2="351.26" y2="347.4" stroke="#000" stroke-width="1.6"/>
<line x1="307.3" y1="308.82" x2="312.1" y2="308.82" stroke="#000" stroke-width="1.6"/>
<line x1="370.84" y1="343.5" x2="370.84" y2="347.4" stroke="#000" stroke-width="1.6"/>
<line x1="307.3" y1="297.26" x2="312.1" y2="297.26" stroke="#000" stroke-width="1.6"/>
<line x1="390.42" y1="343.5" x2="390.42" y2="347.4" stroke="#000" stroke-width="1.6"/>
<line x1="307.3" y1="285.7" x2="312.1" y2="285.7" stroke="#000" stroke-width="1.6"/>
<line x1="410" y1="343.5" x2="410" y2="347.4" stroke="#000" stroke-width="1.6"/>
<line x1="307.3" y1="274.14" x2="312.1" y2="274.14" stroke="#000" stroke-width="1.6"/>
<line x1="429.58" y1="343.5" x2="429.58" y2="347.4" stroke="#000" stroke-width="1.6"/>
<line x1="307.3" y1="262.58" x2="312.1" y2="262.58" stroke="#000" stroke-width="1.6"/>
<line x1="449.16" y1="343.5" x2="449.16" y2="347.4" stroke="#000" stroke-width="1.6"/>
<line x1="307.3" y1="251.02" x2="312.1" y2="251.02" stroke="#000" stroke-width="1.6"/>
<line x1="468.74" y1="343.5" x2="468.74" y2="347.4" stroke="#000" stroke-width="1.6"/>
<line x1="307.3" y1="239.46" x2="312.1" y2="239.46" stroke="#000" stroke-width="1.6"/>
<line x1="488.32" y1="343.5" x2="488.32" y2="347.4" stroke="#000" stroke-width="1.6"/>
<line x1="307.3" y1="227.9" x2="312.1" y2="227.9" stroke="#000" stroke-width="1.6"/>
<line x1="507.9" y1="343.5" x2="507.9" y2="347.4" stroke="#000" stroke-width="1.6"/>
<text x="301.71" y="346.6" font-size="9.3" font-weight="bold" fill="#000" font-family='"Liberation Sans", sans-serif' class="b">0</text>
<text x="296.71 301.71" y="335.04" font-size="9.3" font-weight="bold" fill="#000" font-family='"Liberation Sans", sans-serif' class="b">10</text>
<text x="296.71 301.71" y="323.48" font-size="9.3" font-weight="bold" fill="#000" font-family='"Liberation Sans", sans-serif' class="b">20</text>
<text x="296.71 301.71" y="311.92" font-size="9.3" font-weight="bold" fill="#000" font-family='"Liberation Sans", sans-serif' class="b">30</text>
<text x="296.71 301.71" y="300.36" font-size="9.3" font-weight="bold" fill="#000" font-family='"Liberation Sans", sans-serif' class="b">40</text>
<text x="296.71 301.71" y="288.8" font-size="9.3" font-weight="bold" fill="#000" font-family='"Liberation Sans", sans-serif' class="b">50</text>
<text x="296.71 301.71" y="277.24" font-size="9.3" font-weight="bold" fill="#000" font-family='"Liberation Sans", sans-serif' class="b">60</text>
<text x="296.71 301.71" y="265.68" font-size="9.3" font-weight="bold" fill="#000" font-family='"Liberation Sans", sans-serif' class="b">70</text>
<text x="296.71 301.71" y="254.12" font-size="9.3" font-weight="bold" fill="#000" font-family='"Liberation Sans", sans-serif' class="b">80</text>
<text x="296.71 301.71" y="242.56" font-size="9.3" font-weight="bold" fill="#000" font-family='"Liberation Sans", sans-serif' class="b">90</text>
<text x="291.71 296.71 301.71" y="231" font-size="9.3" font-weight="bold" fill="#000" font-family='"Liberation Sans", sans-serif' class="b">100</text>
<text x="309.52" y="356.3" font-size="9.3" font-weight="bold" fill="#000" font-family='"Liberation Sans", sans-serif' class="b">0</text>
<text x="326.49 331.49" y="356.3" font-size="9.3" font-weight="bold" fill="#000" font-family='"Liberation Sans", sans-serif' class="b">10</text>
<text x="346.2 351.2" y="356.3" font-size="9.3" font-weight="bold" fill="#000" font-family='"Liberation Sans", sans-serif' class="b">20</text>
<text x="365.84 370.84" y="356.3" font-size="9.3" font-weight="bold" fill="#000" font-family='"Liberation Sans", sans-serif' class="b">30</text>
<text x="385.45 390.45" y="356.3" font-size="9.3" font-weight="bold" fill="#000" font-family='"Liberation Sans", sans-serif' class="b">40</text>
<text x="404.96 409.96" y="356.3" font-size="9.3" font-weight="bold" fill="#000" font-family='"Liberation Sans", sans-serif' class="b">50</text>
<text x="424.51 429.51" y="356.3" font-size="9.3" font-weight="bold" fill="#000" font-family='"Liberation Sans", sans-serif' class="b">60</text>
<text x="444.06 449.06" y="356.3" font-size="9.3" font-weight="bold" fill="#000" font-family='"Liberation Sans", sans-serif' class="b">70</text>
<text x="463.7 468.7" y="356.3" font-size="9.3" font-weight="bold" fill="#000" font-family='"Liberation Sans", sans-serif' class="b">80</text>
<text x="483.26 488.26" y="356.3" font-size="9.3" font-weight="bold" fill="#000" font-family='"Liberation Sans", sans-serif' class="b">90</text>
<text x="500.21 505.21 510.21" y="356.3" font-size="9.3" font-weight="bold" fill="#000" font-family='"Liberation Sans", sans-serif' class="b">100</text>
<text class="b" transform="translate(284.8,310) rotate(-90)" x="-0.25 8.58 11.3 17.92 23.97 27.8 33.3 36.02 41.53 47.03" y="0" font-size="10" font-weight="bold" font-family='"Liberation Sans", sans-serif'>% Survival</text>
<text x="357.56 365.1 371.04 376.99 382.93 386.21 392.15 395.96 399.76 405.71 410.05 413.32 417.12 421.47 427.41 433.36 437.16 446.3 452.25 458.72" y="368.6" font-size="9.6" font-weight="bold" fill="#000" font-family='"Liberation Sans", sans-serif' class="b">Days after treatment</text>
<text x="328.18 337.09 344.73 352.36 356.8 361.88 369.52" y="222.8" font-size="11.5" font-weight="bold" fill="#000" font-family='"Liberation Sans", sans-serif' class="b">Control</text>
<text x="379.41 388.24 395.78 400.13 403.84 411.38 418.93 426.47 433.38 437.09 441.44 450.27 459.09 466 472.92 479.83 486.74" y="222.8" font-size="11.5" font-weight="bold" fill="#000" font-family='"Liberation Sans", sans-serif' class="b">Antibody (HB8181)</text>
<line x1="311.3" y1="227.9" x2="329.33" y2="227.9" stroke="#000" stroke-width="1.6"/>
<polyline points="321.89,227.9 321.89,227.9 321.89,343.5" fill="none" stroke="#7a7a7a" stroke-width="1.5" stroke-linejoin="miter" stroke-linecap="butt"/>
<path d="M325.81 227.15L325.81 286.45" fill="none" stroke="#000" stroke-width="1.5" stroke-dasharray="2.2 1.6" stroke-linecap="butt"/>
<path d="M325.06 285.7L330.47 285.7" fill="none" stroke="#000" stroke-width="1.5" stroke-dasharray="5.42 3.94" stroke-linecap="butt"/>
<path d="M329.72 284.95L329.72 332.69" fill="none" stroke="#000" stroke-width="1.5" stroke-dasharray="2.2 1.6" stroke-linecap="butt"/>
<path d="M328.97 331.94L342.22 331.94" fill="none" stroke="#000" stroke-width="1.5" stroke-dasharray="2.14 1.56" stroke-linecap="butt"/>
<path d="M341.47 331.19L341.47 343.5" fill="none" stroke="#000" stroke-width="1.5" stroke-dasharray="1.99 1.45" stroke-linecap="butt"/>
<path d="M329.72 227.1L329.72 240.26" fill="none" stroke="#000" stroke-width="1.6" stroke-dasharray="3.02 2.05" stroke-linecap="butt"/>
<path d="M328.92 239.46L334.44 239.46" fill="none" stroke="#000" stroke-width="1.6" stroke-dasharray="5.52 3.73" stroke-linecap="butt"/>
<path d="M333.64 238.66L333.64 298.06" fill="none" stroke="#000" stroke-width="1.6" stroke-dasharray="3.34 2.26" stroke-linecap="butt"/>
<path d="M332.84 297.26L338.35 297.26" fill="none" stroke="#000" stroke-width="1.6" stroke-dasharray="5.52 3.73" stroke-linecap="butt"/>
<path d="M337.55 296.46L337.55 343.5" fill="none" stroke="#000" stroke-width="1.6" stroke-dasharray="3.26 2.21" stroke-linecap="butt"/>
<polyline points="325.81,227.9 325.81,227.9 325.81,274.14 329.72,274.14 329.72,331.94 333.64,331.94 333.64,343.5" fill="none" stroke="#000" stroke-width="2.2" stroke-linejoin="miter" stroke-linecap="butt"/>
<text x="349.31 353.82 358.32 360.74 363.58 368.08 372.59 375.01 379.51" y="242.5" font-size="7.5" font-weight="normal" fill="#111" font-family='"Liberation Sans", sans-serif' class="a">untreated</text>
<line x1="349" y1="240" x2="325.8" y2="257.4" stroke="#000" stroke-width="1"/>
<polygon points="322.6,259.8 325.4,255.2 327.8,258.4" fill="#000"/>
<text x="373.72 379.49 384.02 388.55 392.66 397.19 401.71 404.15 406.18 410.71 415.23 419.76 421.79 424.23 427.08 431.61 436.14 440.67" y="253.3" font-size="7.5" font-weight="normal" fill="#111" font-family='"Liberation Sans", sans-serif' class="a">Conventional (300)</text>
<line x1="373" y1="250" x2="340.67" y2="261.37" stroke="#000" stroke-width="1"/>
<polygon points="336.9,262.7 340.95,259.15 342.28,262.93" fill="#000"/>
<text x="364.28 369.68 375.48 377.96 382.93 385.4 388.29 392.85 397.41 401.97" y="298.8" font-size="7.5" font-weight="normal" fill="#111" font-family='"Liberation Sans", sans-serif' class="a">PRIT (800)</text>
<line x1="364" y1="295" x2="336.48" y2="325.43" stroke="#000" stroke-width="1"/>
<polygon points="333.8,328.4 335.67,323.35 338.64,326.03" fill="#000"/>
<text x="361.82 367.57 372.09 376.6 380.69 385.2 389.71 392.13 394.14 398.65 403.16 407.67 409.67 412.1 414.94 419.45 423.96 428.47" y="314.2" font-size="7.5" font-weight="normal" fill="#111" font-family='"Liberation Sans", sans-serif' class="a">Conventional (200)</text>
<line x1="361" y1="311" x2="342.12" y2="332.78" stroke="#000" stroke-width="1"/>
<polygon points="339.5,335.8 341.26,330.71 344.29,333.33" fill="#000"/>
<text x="-0.55" y="387.5" font-size="11.2" font-weight="bold" fill="#000" font-family='"Liberation Sans", sans-serif' class="b">E</text>
<line x1="23.65" y1="521.7" x2="175.25" y2="521.7" stroke="#000" stroke-width="1.7"/>
<line x1="26.85" y1="525.5" x2="26.85" y2="401.25" stroke="#000" stroke-width="1.7"/>
<line x1="23.65" y1="509.74" x2="26.85" y2="509.74" stroke="#000" stroke-width="1.7"/>
<line x1="41.61" y1="521.7" x2="41.61" y2="525.5" stroke="#000" stroke-width="1.7"/>
<line x1="23.65" y1="497.78" x2="26.85" y2="497.78" stroke="#000" stroke-width="1.7"/>
<line x1="56.36" y1="521.7" x2="56.36" y2="525.5" stroke="#000" stroke-width="1.7"/>
<line x1="23.65" y1="485.82" x2="26.85" y2="485.82" stroke="#000" stroke-width="1.7"/>
<line x1="71.12" y1="521.7" x2="71.12" y2="525.5" stroke="#000" stroke-width="1.7"/>
<line x1="23.65" y1="473.86" x2="26.85" y2="473.86" stroke="#000" stroke-width="1.7"/>
<line x1="85.87" y1="521.7" x2="85.87" y2="525.5" stroke="#000" stroke-width="1.7"/>
<line x1="23.65" y1="461.9" x2="26.85" y2="461.9" stroke="#000" stroke-width="1.7"/>
<line x1="100.62" y1="521.7" x2="100.62" y2="525.5" stroke="#000" stroke-width="1.7"/>
<line x1="23.65" y1="449.94" x2="26.85" y2="449.94" stroke="#000" stroke-width="1.7"/>
<line x1="115.38" y1="521.7" x2="115.38" y2="525.5" stroke="#000" stroke-width="1.7"/>
<line x1="23.65" y1="437.98" x2="26.85" y2="437.98" stroke="#000" stroke-width="1.7"/>
<line x1="130.13" y1="521.7" x2="130.13" y2="525.5" stroke="#000" stroke-width="1.7"/>
<line x1="23.65" y1="426.02" x2="26.85" y2="426.02" stroke="#000" stroke-width="1.7"/>
<line x1="144.89" y1="521.7" x2="144.89" y2="525.5" stroke="#000" stroke-width="1.7"/>
<line x1="23.65" y1="414.06" x2="26.85" y2="414.06" stroke="#000" stroke-width="1.7"/>
<line x1="159.65" y1="521.7" x2="159.65" y2="525.5" stroke="#000" stroke-width="1.7"/>
<line x1="23.65" y1="402.1" x2="26.85" y2="402.1" stroke="#000" stroke-width="1.7"/>
<line x1="174.4" y1="521.7" x2="174.4" y2="525.5" stroke="#000" stroke-width="1.7"/>
<text transform="scale(0.8600,1)" x="22.55" y="524.9" font-size="8.6" font-weight="bold" fill="#000" font-family='"Liberation Sans", sans-serif' class="c">0</text>
<text transform="scale(0.8600,1)" x="29.59" y="534.9" font-size="8.4" font-weight="bold" fill="#000" font-family='"Liberation Sans", sans-serif' class="c">0</text>
<text transform="scale(0.8600,1)" x="18.3 22.55" y="512.94" font-size="8.6" font-weight="bold" fill="#000" font-family='"Liberation Sans", sans-serif' class="c">10</text>
<text transform="scale(0.8600,1)" x="44.53 48.77" y="534.9" font-size="8.4" font-weight="bold" fill="#000" font-family='"Liberation Sans", sans-serif' class="c">10</text>
<text transform="scale(0.8600,1)" x="18.3 22.55" y="500.98" font-size="8.6" font-weight="bold" fill="#000" font-family='"Liberation Sans", sans-serif' class="c">20</text>
<text transform="scale(0.8600,1)" x="61.8 66.05" y="534.9" font-size="8.4" font-weight="bold" fill="#000" font-family='"Liberation Sans", sans-serif' class="c">20</text>
<text transform="scale(0.8600,1)" x="18.3 22.55" y="489.02" font-size="8.6" font-weight="bold" fill="#000" font-family='"Liberation Sans", sans-serif' class="c">30</text>
<text transform="scale(0.8600,1)" x="79.01 83.25" y="534.9" font-size="8.4" font-weight="bold" fill="#000" font-family='"Liberation Sans", sans-serif' class="c">30</text>
<text transform="scale(0.8600,1)" x="18.3 22.55" y="477.06" font-size="8.6" font-weight="bold" fill="#000" font-family='"Liberation Sans", sans-serif' class="c">40</text>
<text transform="scale(0.8600,1)" x="96.2 100.44" y="534.9" font-size="8.4" font-weight="bold" fill="#000" font-family='"Liberation Sans", sans-serif' class="c">40</text>
<text transform="scale(0.8600,1)" x="18.3 22.55" y="465.1" font-size="8.6" font-weight="bold" fill="#000" font-family='"Liberation Sans", sans-serif' class="c">50</text>
<text transform="scale(0.8600,1)" x="113.29 117.53" y="534.9" font-size="8.4" font-weight="bold" fill="#000" font-family='"Liberation Sans", sans-serif' class="c">50</text>
<text transform="scale(0.8600,1)" x="18.3 22.55" y="453.14" font-size="8.6" font-weight="bold" fill="#000" font-family='"Liberation Sans", sans-serif' class="c">60</text>
<text transform="scale(0.8600,1)" x="130.42 134.67" y="534.9" font-size="8.4" font-weight="bold" fill="#000" font-family='"Liberation Sans", sans-serif' class="c">60</text>
<text transform="scale(0.8600,1)" x="18.3 22.55" y="441.18" font-size="8.6" font-weight="bold" fill="#000" font-family='"Liberation Sans", sans-serif' class="c">70</text>
<text transform="scale(0.8600,1)" x="147.55 151.8" y="534.9" font-size="8.4" font-weight="bold" fill="#000" font-family='"Liberation Sans", sans-serif' class="c">70</text>
<text transform="scale(0.8600,1)" x="18.3 22.55" y="429.22" font-size="8.6" font-weight="bold" fill="#000" font-family='"Liberation Sans", sans-serif' class="c">80</text>
<text transform="scale(0.8600,1)" x="164.76 169" y="534.9" font-size="8.4" font-weight="bold" fill="#000" font-family='"Liberation Sans", sans-serif' class="c">80</text>
<text transform="scale(0.8600,1)" x="18.3 22.55" y="417.26" font-size="8.6" font-weight="bold" fill="#000" font-family='"Liberation Sans", sans-serif' class="c">90</text>
<text transform="scale(0.8600,1)" x="181.9 186.14" y="534.9" font-size="8.4" font-weight="bold" fill="#000" font-family='"Liberation Sans", sans-serif' class="c">90</text>
<text transform="scale(0.8600,1)" x="14.06 18.3 22.55" y="405.3" font-size="8.6" font-weight="bold" fill="#000" font-family='"Liberation Sans", sans-serif' class="c">100</text>
<text transform="scale(0.8600,1)" x="196.82 201.06 205.3" y="534.9" font-size="8.4" font-weight="bold" fill="#000" font-family='"Liberation Sans", sans-serif' class="c">100</text>
<text class="r" transform="translate(7.7,487.2) rotate(-90)" x="-0.36 8.91 11.95 18.96 24.84 28.45 33.76 36.23 41.54 47.42" y="0" font-size="10.2" font-weight="normal" font-family='"Liberation Sans", sans-serif'>% Survival</text>
<text x="58.48 65.5 70.98 76.45 81.93 84.82 90.3 93.7 97.1 102.58 106.51 109.39 112.8 116.72 122.2 127.68 131.08 139.65 145.13 151.12" y="548.3" font-size="9.3" font-weight="bold" fill="#000" font-family='"Liberation Sans", sans-serif' class="b">Days after treatment</text>
<text x="52.43 60.75 67.79 74.83 81.25 87.66 94.7 98.55 101.76 108.8 115.84 122.25 125.47 128.68 137 144.04 154.28 161.32" y="403.3" font-size="11.5" font-weight="bold" fill="#000" font-family='"Liberation Sans", sans-serif' class="b">Conventional Combo</text>
<line x1="26.85" y1="402.1" x2="46.03" y2="402.1" stroke="#000" stroke-width="1.4"/>
<polyline points="34.23,402.1 34.23,402.1 34.23,521.7" fill="none" stroke="#7a7a7a" stroke-width="1.5" stroke-linejoin="miter" stroke-linecap="butt"/>
<path d="M46.03 401.4L46.03 455.9" fill="none" stroke="#000" stroke-width="1.4" stroke-dasharray="2.16 1.57" stroke-linecap="butt"/>
<path d="M45.33 455.2L49.68 455.2" fill="none" stroke="#000" stroke-width="1.4" stroke-dasharray="4.35 3.16" stroke-linecap="butt"/>
<path d="M48.98 454.5L48.98 509.12" fill="none" stroke="#000" stroke-width="1.4" stroke-dasharray="2.17 1.58" stroke-linecap="butt"/>
<path d="M48.28 508.42L54.11 508.42" fill="none" stroke="#000" stroke-width="1.4" stroke-dasharray="5.83 4.24" stroke-linecap="butt"/>
<path d="M53.41 507.72L53.41 521.7" fill="none" stroke="#000" stroke-width="1.4" stroke-dasharray="2.26 1.64" stroke-linecap="butt"/>
<path d="M46.03 402.1L49.68 402.1" fill="none" stroke="#000" stroke-width="1.4" stroke-dasharray="3.65 1.83" stroke-linecap="butt"/>
<path d="M48.98 401.4L48.98 442.63" fill="none" stroke="#000" stroke-width="1.4" stroke-dasharray="3.58 1.79" stroke-linecap="butt"/>
<path d="M48.28 441.93L54.11 441.93" fill="none" stroke="#000" stroke-width="1.4" stroke-dasharray="5.83 2.91" stroke-linecap="butt"/>
<path d="M53.41 441.23L53.41 469.3" fill="none" stroke="#000" stroke-width="1.4" stroke-dasharray="3.3 1.65" stroke-linecap="butt"/>
<path d="M52.71 468.6L58.54 468.6" fill="none" stroke="#000" stroke-width="1.4" stroke-dasharray="5.83 2.91" stroke-linecap="butt"/>
<path d="M57.84 467.9L57.84 495.85" fill="none" stroke="#000" stroke-width="1.4" stroke-dasharray="3.29 1.64" stroke-linecap="butt"/>
<path d="M57.14 495.15L174.4 495.15" fill="none" stroke="#000" stroke-width="1.4" stroke-dasharray="3.61 1.8" stroke-linecap="butt"/>
<line x1="174.4" y1="495.85" x2="174.4" y2="492.15" stroke="#000" stroke-width="1.4"/>
<text transform="translate(58.19,423.4) scale(0.9334,1)" x="0" y="0" font-size="6.8" font-weight="normal" fill="#111" font-family='"Liberation Sans", sans-serif' class="e">untreated</text>
<line x1="57.8" y1="420.6" x2="37.52" y2="445.64" stroke="#000" stroke-width="1"/>
<polygon points="35,448.75 36.59,443.61 39.7,446.12" fill="#000"/>
<text transform="translate(96.78,459.2) scale(0.9043,1)" x="0" y="0" font-size="7" font-weight="normal" fill="#111" font-family='"Liberation Sans", sans-serif' class="e">200 µCi</text>
<line x1="96" y1="456" x2="54.46" y2="488.34" stroke="#000" stroke-width="1"/>
<polygon points="51.3,490.8 54.02,486.15 56.47,489.31" fill="#000"/>
<text transform="translate(150.16,490.8) scale(0.8840,1)" x="0" y="0" font-size="7" font-weight="normal" fill="#111" font-family='"Liberation Sans", sans-serif' class="e">300 µCi</text>
<text x="276.15" y="387.5" font-size="11.2" font-weight="bold" fill="#000" font-family='"Liberation Sans", sans-serif' class="b">F</text>
<line x1="300.55" y1="516.9" x2="451.45" y2="516.9" stroke="#000" stroke-width="1.7"/>
<line x1="303.75" y1="520.7" x2="303.75" y2="396.05" stroke="#000" stroke-width="1.7"/>
<line x1="300.55" y1="504.9" x2="303.75" y2="504.9" stroke="#000" stroke-width="1.7"/>
<line x1="318.44" y1="516.9" x2="318.44" y2="520.7" stroke="#000" stroke-width="1.7"/>
<line x1="300.55" y1="492.9" x2="303.75" y2="492.9" stroke="#000" stroke-width="1.7"/>
<line x1="333.12" y1="516.9" x2="333.12" y2="520.7" stroke="#000" stroke-width="1.7"/>
<line x1="300.55" y1="480.9" x2="303.75" y2="480.9" stroke="#000" stroke-width="1.7"/>
<line x1="347.81" y1="516.9" x2="347.81" y2="520.7" stroke="#000" stroke-width="1.7"/>
<line x1="300.55" y1="468.9" x2="303.75" y2="468.9" stroke="#000" stroke-width="1.7"/>
<line x1="362.49" y1="516.9" x2="362.49" y2="520.7" stroke="#000" stroke-width="1.7"/>
<line x1="300.55" y1="456.9" x2="303.75" y2="456.9" stroke="#000" stroke-width="1.7"/>
<line x1="377.18" y1="516.9" x2="377.18" y2="520.7" stroke="#000" stroke-width="1.7"/>
<line x1="300.55" y1="444.9" x2="303.75" y2="444.9" stroke="#000" stroke-width="1.7"/>
<line x1="391.86" y1="516.9" x2="391.86" y2="520.7" stroke="#000" stroke-width="1.7"/>
<line x1="300.55" y1="432.9" x2="303.75" y2="432.9" stroke="#000" stroke-width="1.7"/>
<line x1="406.55" y1="516.9" x2="406.55" y2="520.7" stroke="#000" stroke-width="1.7"/>
<line x1="300.55" y1="420.9" x2="303.75" y2="420.9" stroke="#000" stroke-width="1.7"/>
<line x1="421.23" y1="516.9" x2="421.23" y2="520.7" stroke="#000" stroke-width="1.7"/>
<line x1="300.55" y1="408.9" x2="303.75" y2="408.9" stroke="#000" stroke-width="1.7"/>
<line x1="435.92" y1="516.9" x2="435.92" y2="520.7" stroke="#000" stroke-width="1.7"/>
<line x1="300.55" y1="396.9" x2="303.75" y2="396.9" stroke="#000" stroke-width="1.7"/>
<line x1="450.6" y1="516.9" x2="450.6" y2="520.7" stroke="#000" stroke-width="1.7"/>
<text transform="scale(0.8600,1)" x="344.76" y="519.7" font-size="8.6" font-weight="bold" fill="#000" font-family='"Liberation Sans", sans-serif' class="c">0</text>
<text transform="scale(0.8600,1)" x="350.87" y="529.6" font-size="8.4" font-weight="bold" fill="#000" font-family='"Liberation Sans", sans-serif' class="c">0</text>
<text transform="scale(0.8600,1)" x="340.4 344.76" y="507.7" font-size="8.6" font-weight="bold" fill="#000" font-family='"Liberation Sans", sans-serif' class="c">10</text>
<text transform="scale(0.8600,1)" x="365.72 369.97" y="529.6" font-size="8.4" font-weight="bold" fill="#000" font-family='"Liberation Sans", sans-serif' class="c">10</text>
<text transform="scale(0.8600,1)" x="340.4 344.76" y="495.7" font-size="8.6" font-weight="bold" fill="#000" font-family='"Liberation Sans", sans-serif' class="c">20</text>
<text transform="scale(0.8600,1)" x="382.92 387.16" y="529.6" font-size="8.4" font-weight="bold" fill="#000" font-family='"Liberation Sans", sans-serif' class="c">20</text>
<text transform="scale(0.8600,1)" x="340.4 344.76" y="483.7" font-size="8.6" font-weight="bold" fill="#000" font-family='"Liberation Sans", sans-serif' class="c">30</text>
<text transform="scale(0.8600,1)" x="400.04 404.29" y="529.6" font-size="8.4" font-weight="bold" fill="#000" font-family='"Liberation Sans", sans-serif' class="c">30</text>
<text transform="scale(0.8600,1)" x="340.4 344.76" y="471.7" font-size="8.6" font-weight="bold" fill="#000" font-family='"Liberation Sans", sans-serif' class="c">40</text>
<text transform="scale(0.8600,1)" x="417.15 421.39" y="529.6" font-size="8.4" font-weight="bold" fill="#000" font-family='"Liberation Sans", sans-serif' class="c">40</text>
<text transform="scale(0.8600,1)" x="340.4 344.76" y="459.7" font-size="8.6" font-weight="bold" fill="#000" font-family='"Liberation Sans", sans-serif' class="c">50</text>
<text transform="scale(0.8600,1)" x="434.16 438.4" y="529.6" font-size="8.4" font-weight="bold" fill="#000" font-family='"Liberation Sans", sans-serif' class="c">50</text>
<text transform="scale(0.8600,1)" x="340.4 344.76" y="447.7" font-size="8.6" font-weight="bold" fill="#000" font-family='"Liberation Sans", sans-serif' class="c">60</text>
<text transform="scale(0.8600,1)" x="451.21 455.46" y="529.6" font-size="8.4" font-weight="bold" fill="#000" font-family='"Liberation Sans", sans-serif' class="c">60</text>
<text transform="scale(0.8600,1)" x="340.4 344.76" y="435.7" font-size="8.6" font-weight="bold" fill="#000" font-family='"Liberation Sans", sans-serif' class="c">70</text>
<text transform="scale(0.8600,1)" x="468.26 472.5" y="529.6" font-size="8.4" font-weight="bold" fill="#000" font-family='"Liberation Sans", sans-serif' class="c">70</text>
<text transform="scale(0.8600,1)" x="340.4 344.76" y="423.7" font-size="8.6" font-weight="bold" fill="#000" font-family='"Liberation Sans", sans-serif' class="c">80</text>
<text transform="scale(0.8600,1)" x="485.38 489.63" y="529.6" font-size="8.4" font-weight="bold" fill="#000" font-family='"Liberation Sans", sans-serif' class="c">80</text>
<text transform="scale(0.8600,1)" x="340.4 344.76" y="411.7" font-size="8.6" font-weight="bold" fill="#000" font-family='"Liberation Sans", sans-serif' class="c">90</text>
<text transform="scale(0.8600,1)" x="502.45 506.69" y="529.6" font-size="8.4" font-weight="bold" fill="#000" font-family='"Liberation Sans", sans-serif' class="c">90</text>
<text transform="scale(0.8600,1)" x="336.03 340.4 344.76" y="399.7" font-size="8.6" font-weight="bold" fill="#000" font-family='"Liberation Sans", sans-serif' class="c">100</text>
<text transform="scale(0.8600,1)" x="517.28 521.53 525.77" y="529.6" font-size="8.4" font-weight="bold" fill="#000" font-family='"Liberation Sans", sans-serif' class="c">100</text>
<text class="b" transform="translate(284.7,482.3) rotate(-90)" x="-0.24 8.67 11.65 18.4 24.61 28.67 34.35 37.33 43.01 48.69" y="0" font-size="9.7" font-weight="bold" font-family='"Liberation Sans", sans-serif'>% Survival</text>
<text x="338.24 345.39 350.9 356.41 361.93 364.71 370.23 373.55 376.88 382.39 386.27 389.06 392.38 396.26 401.77 407.29 410.62 419.39 424.91 430.96" y="543.3" font-size="9.8" font-weight="bold" fill="#000" font-family='"Liberation Sans", sans-serif' class="b">Days after treatment</text>
<text x="348.23 356.07 364.54 367.91 375.1 378.47 386.94 394.14 404.53 411.72" y="397.9" font-size="11.5" font-weight="bold" fill="#000" font-family='"Liberation Sans", sans-serif' class="b">PRIT Combo</text>
<polyline points="311.09,396.9 311.09,396.9 311.09,516.9" fill="none" stroke="#7a7a7a" stroke-width="1.5" stroke-linejoin="miter" stroke-linecap="butt"/>
<path d="M303.75 396.9L327.95 396.9" fill="none" stroke="#111" stroke-width="1.4" stroke-dasharray="3.61 1.53" stroke-linecap="butt"/>
<path d="M327.25 396.2L327.25 421.6" fill="none" stroke="#111" stroke-width="1.4" stroke-dasharray="3.13 1.33" stroke-linecap="butt"/>
<path d="M326.55 420.9L335.29 420.9" fill="none" stroke="#111" stroke-width="1.4" stroke-dasharray="3.61 1.53" stroke-linecap="butt"/>
<path d="M334.59 420.2L334.59 445.6" fill="none" stroke="#111" stroke-width="1.4" stroke-dasharray="3.13 1.33" stroke-linecap="butt"/>
<path d="M333.89 444.9L450.6 444.9" fill="none" stroke="#111" stroke-width="1.4" stroke-dasharray="3.32 1.41" stroke-linecap="butt"/>
<line x1="450.6" y1="445.6" x2="450.6" y2="441.9" stroke="#111" stroke-width="1.4"/>
<line x1="303.75" y1="396.9" x2="313.74" y2="396.9" stroke="#000" stroke-width="1.4"/>
<polyline points="313.74,396.9 313.74,396.9 313.74,408.9 316.38,408.9 316.38,432.9 322.84,432.9 322.84,444.9 334.59,444.9 334.59,456.9 358.08,456.9 358.08,480.9 450.6,480.9" fill="none" stroke="#000" stroke-width="2.2" stroke-linejoin="miter" stroke-linecap="butt"/>
<line x1="450.6" y1="482" x2="450.6" y2="477.9" stroke="#000" stroke-width="2.2"/>
<text transform="translate(312.58,512.2) scale(0.9442,1)" x="0" y="0" font-size="6.8" font-weight="normal" fill="#111" font-family='"Liberation Sans", sans-serif' class="e">untreated</text>
<text transform="translate(424.66,439.3) scale(0.8970,1)" x="0" y="0" font-size="7" font-weight="normal" fill="#111" font-family='"Liberation Sans", sans-serif' class="e">400 µCi</text>
<text transform="translate(424.53,476) scale(0.9024,1)" x="0" y="0" font-size="7" font-weight="normal" fill="#111" font-family='"Liberation Sans", sans-serif' class="e">800 µCi</text>
</svg>
</body></html>
